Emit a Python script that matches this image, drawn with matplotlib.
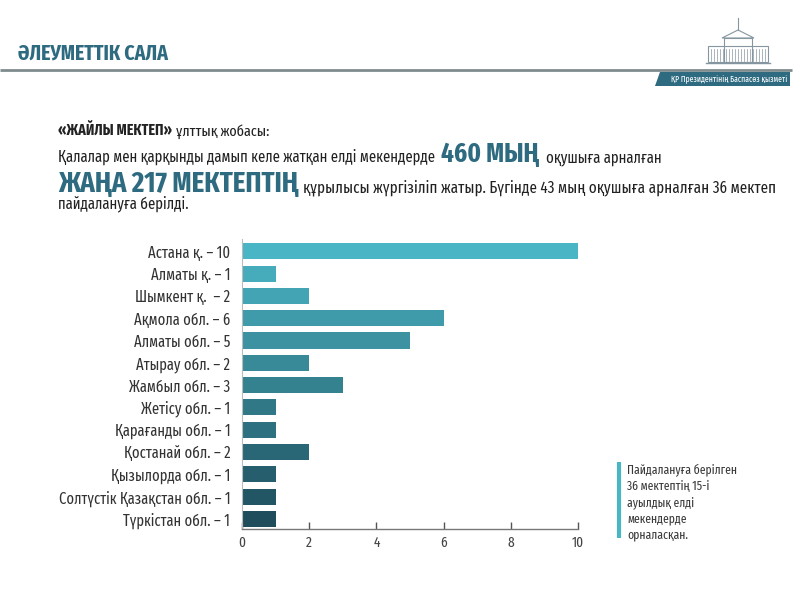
import matplotlib
matplotlib.use("Agg")
import numpy as np
import matplotlib.pyplot as plt
from matplotlib.colors import LinearSegmentedColormap
from matplotlib.patches import Rectangle, Polygon

# data
labels = ["Астана қ. – 10", "Алматы қ. – 1", "Шымкент қ.  – 2", "Ақмола обл. – 6",
          "Алматы обл. – 5", "Атырау обл. – 2", "Жамбыл обл. – 3", "Жетісу обл. – 1",
          "Қарағанды обл. – 1", "Қостанай обл. – 2", "Қызылорда обл. – 1",
          "Солтүстік Қазақстан обл. – 1", "Түркістан обл. – 1"]
values = [10, 1, 2, 6, 5, 2, 3, 1, 1, 2, 1, 1, 1]
x_ticks = [0, 2, 4, 6, 8, 10]

header = "ӘЛЕУМЕТТІК САЛА"
press = "ҚР Президентінің Баспасөз қызметі"
note = "Пайдалануға берілген\n36 мектептің 15-і\nауылдық елді\nмекендерде\nорналасқан."

FONT = ["Fira Sans Extra Condensed", "DejaVu Sans"]
plt.rcParams["font.family"] = FONT

TEAL = "#2e6b80"
LIGHT = "#4ab5c4"
DARK = "#1f4d5c"
TXT = "#333333"
BODY = "#222222"

fig = plt.figure(figsize=(8, 6), dpi=100)

# background layer in pixel coordinates
bg = fig.add_axes([0, 0, 1, 1], zorder=0)
bg.set_xlim(0, 800)
bg.set_ylim(600, 0)
bg.axis("off")

bg.text(18, 60, header, fontsize=15.5, fontweight="bold", color=TEAL, va="baseline")
bg.plot([0, 792], [70, 70], color="#7f8c8d", lw=2, solid_capstyle="butt")
bg.add_patch(Polygon([[660, 72], [790, 72], [790, 86], [655, 86]], closed=True,
                     color=TEAL, lw=0))
bg.text(787, 79.5, press, fontsize=6, color="white", ha="right", va="center")

# small building logo
lc = "#8596a0"
bg.add_patch(Rectangle((708, 46), 60, 16, fc="none", ec=lc, lw=0.8))
bg.add_patch(Rectangle((724, 38), 28, 24, fc="none", ec=lc, lw=0.8))
bg.add_patch(Polygon([[722, 38], [738, 30], [754, 38]], closed=True, fc="none", ec=lc, lw=0.8))
bg.plot([738, 738], [18, 30], color=lc, lw=0.8)
for xc in np.arange(711, 766, 3):
    bg.plot([xc, xc], [49, 61], color=lc, lw=0.5)
bg.plot([706, 770], [62.5, 62.5], color=lc, lw=1)

# intro text
t1 = bg.text(58, 136, "«ЖАЙЛЫ МЕКТЕП»", fontsize=11, fontweight="bold", color=BODY,
             va="baseline")
bg.annotate("ұлттық жобасы:", xy=(1, 136), xycoords=(t1, "data"), xytext=(3, 0),
            textcoords="offset points", fontsize=11, color=BODY, va="baseline")

t2 = bg.text(58, 162, "Қалалар мен қарқынды дамып келе жатқан елді мекендерде",
             fontsize=11.5, color=BODY, va="baseline")
t3 = bg.annotate("460 МЫҢ", xy=(1, 162), xycoords=(t2, "data"), xytext=(4, 0),
                 textcoords="offset points", fontsize=19.5, fontweight="bold", color=TEAL,
                 va="baseline")
bg.annotate("оқушыға арналған", xy=(1, 162), xycoords=(t3, "data"), xytext=(5, 0),
            textcoords="offset points", fontsize=11.5, color=BODY, va="baseline")

t4 = bg.text(58, 192, "ЖАҢА 217 МЕКТЕПТІҢ", fontsize=21, fontweight="bold", color=TEAL,
             va="baseline")
bg.annotate("құрылысы жүргізіліп жатыр. Бүгінде 43 мың оқушыға арналған 36 мектеп",
            xy=(1, 192), xycoords=(t4, "data"), xytext=(3, 0), textcoords="offset points",
            fontsize=11.8, color=BODY, va="baseline")
bg.text(58, 208, "пайдалануға берілді.", fontsize=11.5, color=BODY, va="baseline")

# right note
bg.plot([619, 619], [462, 538], color=LIGHT, lw=3, solid_capstyle="butt")
bg.text(627, 463, note, fontsize=9.1, color="#3a3a3a", va="top", linespacing=1.38)

# bar chart
ax = fig.add_axes([242 / 800, 1 - 529 / 600, 336 / 800, 290 / 600], zorder=1)
ax.patch.set_alpha(0)
cmap = LinearSegmentedColormap.from_list("tl", [LIGHT, DARK])
colors = [cmap(i / (len(values) - 1)) for i in range(len(values))]
y = np.arange(len(values))
ax.barh(y, values, height=0.72, color=colors)

ax.set_ylim(12.45, -0.55)
ax.set_xlim(0, 10)
ax.set_yticks(y)
ax.set_yticklabels(labels, fontsize=11.4, color=TXT)
ax.set_xticks(x_ticks)
ax.set_xticklabels([str(v) for v in x_ticks], fontsize=10.5, color="#444444")
ax.tick_params(axis="y", length=0, pad=8.5)
ax.tick_params(axis="x", direction="in", length=5, width=1, color="#555555", pad=5)
for s in ["top", "right"]:
    ax.spines[s].set_visible(False)
ax.spines["left"].set_color("#bbbbbb")
ax.spines["left"].set_linewidth(0.8)
ax.spines["bottom"].set_color("#777777")
ax.spines["bottom"].set_linewidth(1)

fig.savefig("out.png", dpi=100, facecolor="white")
